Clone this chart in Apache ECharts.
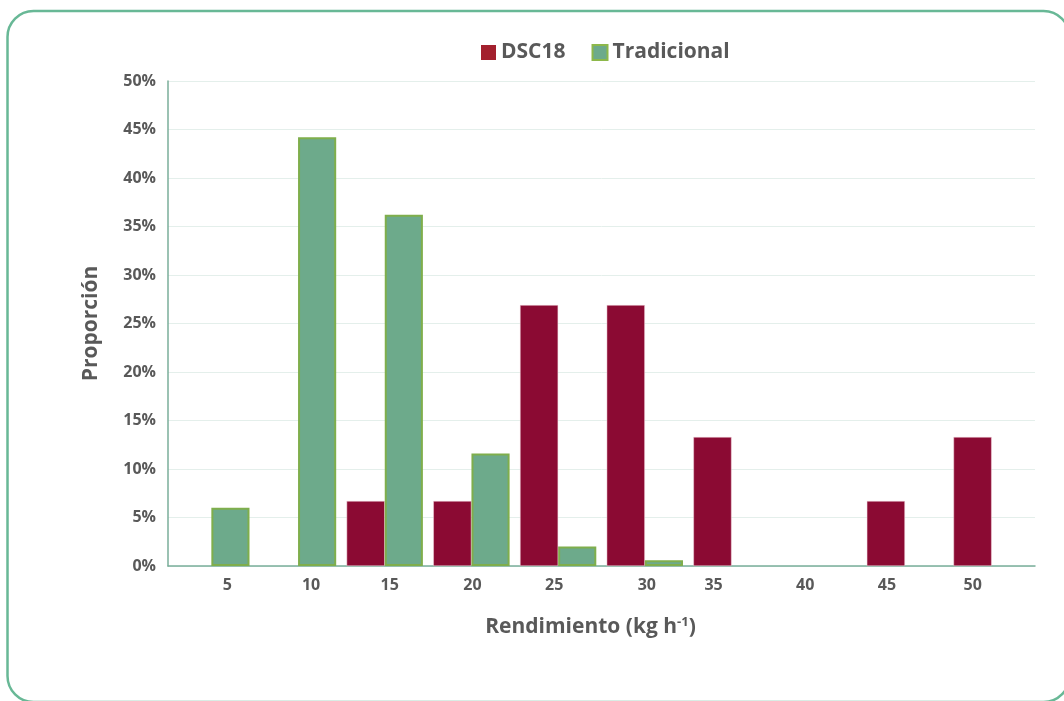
<!DOCTYPE html>
<html>
<head>
<meta charset="utf-8">
<script src="https://cdn.jsdelivr.net/npm/echarts@6/dist/echarts.min.js"></script>
<style>
html,body{margin:0;padding:0;background:#fff;}
#chart{width:1064px;height:701px;}
</style>
</head>
<body>
<div id="chart"></div>
<script>
const categories = ['5','10','15','20','25','30','35','40','45','50'];
const dsc18 = [null, null, 6.7, 6.7, 26.9, 26.9, 13.3, null, 6.7, 13.3];
const tradicional = [6.0, 44.2, 36.2, 11.6, 2.0, 0.6, null, null, null, null];
const yTicks = { min: 0, max: 50, interval: 5 };

// label nudges (px) to follow the reference's hand-placed tick labels
const labelShift = [16, 13, 5, 1, -4, 2, -18, -13, -18, -19];

const font = '"Open Sans", "Noto Sans", sans-serif';
const txt = '#595959';
const tickFont = { fontFamily: font, fontSize: 16, fontWeight: 'bold', color: txt };
const rich = {};
labelShift.forEach((s, i) => {
  rich['s' + i] = Object.assign({}, tickFont, {
    padding: s >= 0 ? [0, 0, 0, 2 * s] : [0, -2 * s, 0, 0]
  });
});

const chart = echarts.init(document.getElementById('chart'));
chart.setOption({
  animation: false,
  backgroundColor: '#fff',
  textStyle: { fontFamily: font },
  graphic: [{
    type: 'rect',
    shape: { x: 7.5, y: 11, width: 1062, height: 691, r: 26 },
    style: { fill: 'none', stroke: '#68b896', lineWidth: 2.5 },
    silent: true
  }],
  legend: {
    top: 37,
    left: 476,
    icon: 'rect',
    itemWidth: 15,
    itemHeight: 15,
    itemGap: 26,
    textStyle: { fontFamily: font, fontSize: 21, fontWeight: 'bold', color: txt },
    data: [
      { name: 'DSC18', itemStyle: { color: '#a3202e', borderWidth: 0 } },
      { name: 'Tradicional', itemStyle: { color: '#6daa8b', borderColor: '#8db84a', borderWidth: 2 } }
    ]
  },
  grid: { left: 168, right: 29, top: 81, bottom: 135 },
  xAxis: {
    type: 'category',
    data: categories,
    name: 'Rendimiento (kg h{sup|-1})',
    nameLocation: 'middle',
    nameGap: 50,
    nameTextStyle: {
      fontFamily: font, fontSize: 21, fontWeight: 'bold', color: txt,
      padding: [0, 22, 0, 0],
      rich: { sup: { fontFamily: font, fontSize: 13, fontWeight: 'bold', color: txt, verticalAlign: 'top', padding: [0, 0, 10, 0] } }
    },
    axisLine: { lineStyle: { color: '#7aae9a', width: 1.5 } },
    axisTick: { show: false },
    axisLabel: Object.assign({}, tickFont, {
      margin: 11,
      formatter: (v, i) => '{s' + i + '|' + v + '}',
      rich: rich
    })
  },
  yAxis: {
    type: 'value',
    min: yTicks.min, max: yTicks.max, interval: yTicks.interval,
    name: 'Proporción',
    nameLocation: 'middle',
    nameGap: 66,
    nameTextStyle: { fontFamily: font, fontSize: 21, fontWeight: 'bold', color: txt },
    axisLine: { show: true, lineStyle: { color: '#7aae9a', width: 1.5 } },
    axisTick: { show: false },
    splitLine: { lineStyle: { color: '#e4efeb', width: 1 } },
    axisLabel: Object.assign({}, tickFont, { margin: 12, formatter: '{value}%' })
  },
  series: [
    {
      name: 'DSC18', type: 'bar', data: dsc18,
      barGap: '0%', barCategoryGap: '12%',
      itemStyle: { color: '#8b0a33', borderColor: '#f3d6de', borderWidth: 0.5 }
    },
    {
      name: 'Tradicional', type: 'bar', data: tradicional,
      barGap: '0%', barCategoryGap: '12%',
      itemStyle: { color: '#6daa8b', borderColor: '#7fae4c', borderWidth: 2 }
    }
  ]
});
</script>
</body>
</html>
